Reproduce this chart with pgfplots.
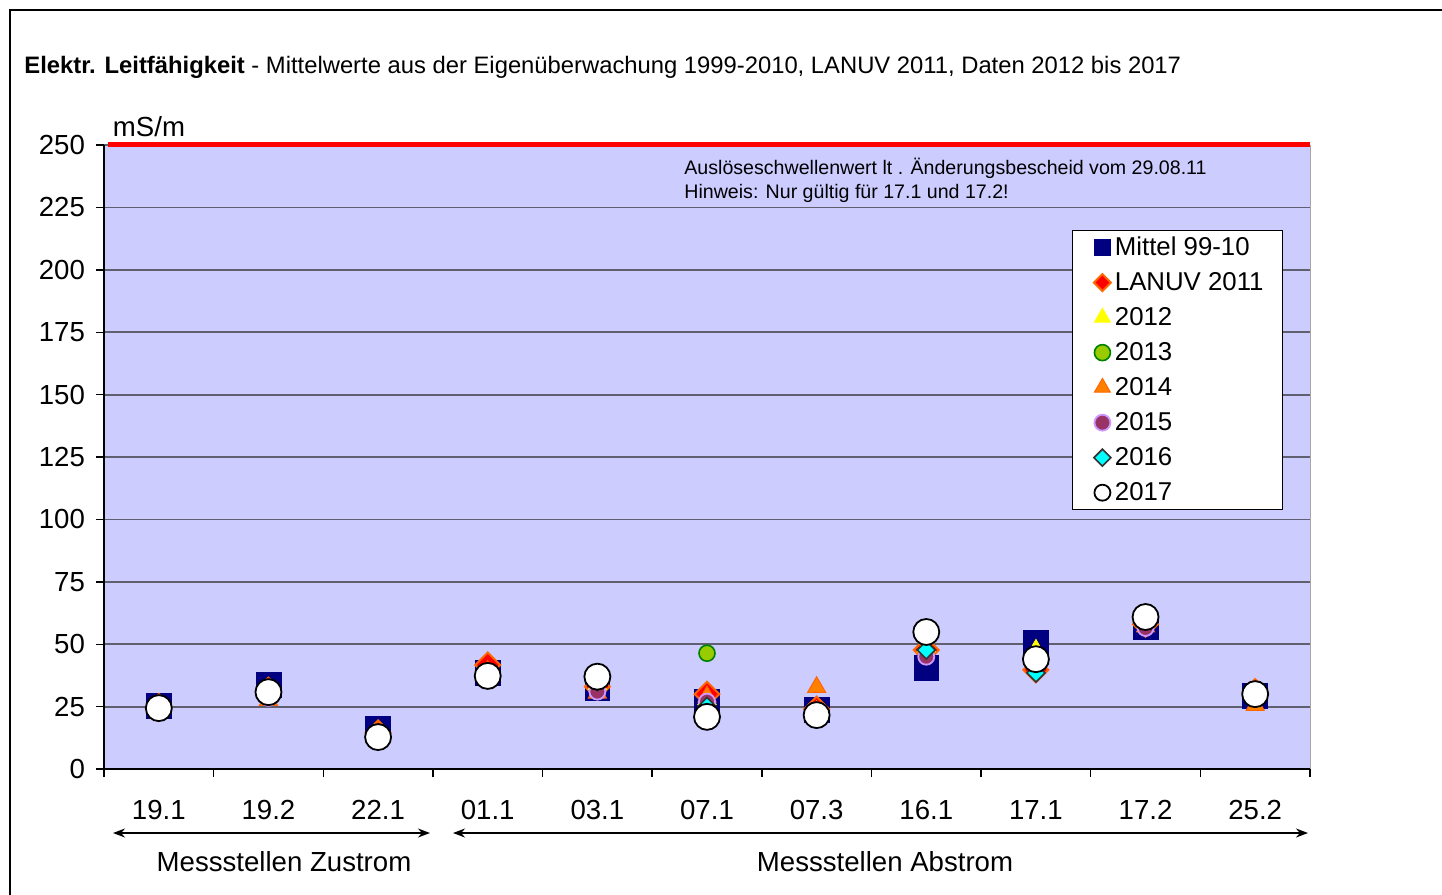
\documentclass[border=0pt]{standalone}
\usepackage{fontspec}
\setmainfont{Liberation Sans}
\usepackage{pgfplots}
\usepackage{pgfplotstable}
\pgfplotsset{compat=1.18}
\usetikzlibrary{arrows.meta}

\definecolor{bgblue}{HTML}{CCCCFF}
\definecolor{gridc}{HTML}{5F5F6F}
\definecolor{mnavy}{HTML}{000080}
\definecolor{lanred}{HTML}{FF0000}
\definecolor{lanorg}{HTML}{FF6600}
\definecolor{y12}{HTML}{FFFF00}
\definecolor{y13f}{HTML}{99CC00}
\definecolor{y13d}{HTML}{008000}
\definecolor{y14}{HTML}{FF8000}
\definecolor{y15f}{HTML}{993366}
\definecolor{y15d}{HTML}{CC99FF}
\definecolor{y16f}{HTML}{00FFFF}
\definecolor{y16d}{HTML}{333333}

% x: 1=19.1 2=19.2 3=22.1 4=01.1 5=03.1 6=07.1 7=07.3 8=16.1 9=17.1 10=17.2 11=25.2
\pgfplotstableread{
x  mittel lanuv y12  y13  y14  y15  y16  y17
1  25.2   25.0  25.0 24.5 24.0 24.5 24.5 24.4
2  33.6   31.6  31.0 31.0 27.6 28.5 30.0 30.8
3  16.0   14.5  14.0 13.0 15.0 14.0 13.0 12.8
4  38.5   41.7  39.0 38.0 39.0 38.0 38.0 37.3
5  32.5   33.0  34.0 36.0 30.5 31.0 35.0 37.0
6  26.8   30.0  28.0 46.4 29.0 27.0 25.0 20.9
7  23.6   24.0  23.0 22.0 32.8 23.0 22.0 21.6
8  40.5   47.7  49.0 53.0 48.0 45.0 47.7 54.9
9  50.5   39.7  47.7 44.0 45.0 44.0 38.5 44.0
10 57.0   58.0  59.0 60.0 57.0 56.5 60.0 60.9
11 29.2   31.0  30.0 30.0 25.6 29.0 30.0 30.0
}\lfdata

\begin{document}
\begin{tikzpicture}
\useasboundingbox (0,0) rectangle (721pt,-447.5pt);
\draw[line width=1pt] (5pt,-447.5pt) -- (5pt,-5pt) -- (721pt,-5pt);

\node[anchor=west, inner sep=0, font=\fontsize{11.9}{14}\selectfont] at (12pt,-33.5pt)
  {\textbf{Elektr. Leitfähigkeit} - Mittelwerte aus der Eigenüberwachung 1999-2010, LANUV 2011, Daten 2012 bis 2017};

\begin{axis}[
  at={(52pt,-384.5pt)}, anchor=south west,
  scale only axis, width=603pt, height=312pt,
  xmin=0.5, xmax=11.5, ymin=0, ymax=250,
  axis lines*=left,
  axis line style={black, line width=0.8pt},
  axis background/.style={fill=bgblue, draw=gray!70},
  clip=false,
  ytick={0,25,...,250},
  ymajorgrids, major grid style={gridc, line width=0.9pt},
  xtick={0.5,1.5,...,11.5},
  x tick label as interval,
  xticklabels={19.1,19.2,22.1,01.1,03.1,07.1,07.3,16.1,17.1,17.2,25.2},
  tick align=outside, major tick length=4pt,
  tick style={black, line width=0.7pt},
  ticklabel style={font=\fontsize{13.8}{16}\selectfont},
  /pgf/number format/assume math mode=true,
  xticklabel style={yshift=-8pt},
  yticklabel style={xshift=-2pt},
  legend style={at={(0.9776,0.8638)}, anchor=north east, draw=black, fill=white,
    font=\fontsize{12.9}{15}\selectfont, row sep=5pt,
    nodes={inner ysep=1pt}},
  legend cell align=left,
  legend image code/.code={\path[draw=none, fill=none] (-12pt,0pt) -- (3pt,0pt);
    \draw[#1] plot coordinates {(0pt,0pt)};},
]
\addplot[lanred, line width=2.5pt, forget plot] coordinates {(0.536,250.3) (11.5,250.3)};

\addplot[only marks, mark=square*, mark size=6.2pt, mark options={fill=mnavy, draw=mnavy, line width=0.3pt},
  legend image post style={mark size=4pt}] table[x=x, y=mittel] {\lfdata};
\addlegendentry{Mittel 99-10}
\addplot[only marks, mark=square*, mark size=4.4pt, mark options={rotate=45, fill=lanred, draw=lanorg, line width=1pt},
  legend image post style={mark size=3pt}] table[x=x, y=lanuv] {\lfdata};
\addlegendentry{LANUV 2011\rule{4.5pt}{0pt}}
\addplot[only marks, mark=triangle*, mark size=5.2pt, mark options={fill=y12, draw=y12, line width=0.5pt},
  legend image post style={mark size=4.6pt}] table[x=x, y=y12] {\lfdata};
\addlegendentry{2012}
\addplot[only marks, mark=*, mark size=4pt, mark options={fill=y13f, draw=y13d, line width=0.8pt},
  legend image post style={mark size=4pt}] table[x=x, y=y13] {\lfdata};
\addlegendentry{2013}
\addplot[only marks, mark=triangle*, mark size=5.2pt, mark options={fill=y14, draw=lanorg, line width=0.5pt},
  legend image post style={mark size=4.6pt}] table[x=x, y=y14] {\lfdata};
\addlegendentry{2014}
\addplot[only marks, mark=*, mark size=4pt, mark options={fill=y15f, draw=y15d, line width=0.9pt},
  legend image post style={mark size=4pt}] table[x=x, y=y15] {\lfdata};
\addlegendentry{2015}
\addplot[only marks, mark=square*, mark size=3.2pt, mark options={rotate=45, fill=y16f, draw=y16d, line width=0.8pt},
  legend image post style={mark size=3pt}] table[x=x, y=y16] {\lfdata};
\addlegendentry{2016}
\addplot[only marks, mark=*, mark size=6.5pt, mark options={fill=white, draw=black, line width=0.9pt},
  legend image post style={mark size=4pt}] table[x=x, y=y17] {\lfdata};
\addlegendentry{2017}
\end{axis}

\node[anchor=north west, align=left, inner sep=0, font=\fontsize{9.8}{12}\selectfont] at (342pt,-79pt)
  {Auslöseschwellenwert lt . Änderungsbescheid vom 29.08.11\\Hinweis: Nur gültig für 17.1 und 17.2!};
\node[font=\fontsize{13.8}{16}\selectfont] at (74.5pt,-63.5pt) {mS/m};

\draw[{Stealth[length=6pt]}-{Stealth[length=6pt]}, line width=0.8pt] (56.5pt,-416.5pt) -- (215pt,-416.5pt);
\draw[{Stealth[length=6pt]}-{Stealth[length=6pt]}, line width=0.8pt] (226.5pt,-416.5pt) -- (654pt,-416.5pt);
\node[font=\fontsize{13.8}{16}\selectfont] at (142pt,-431pt) {Messstellen Zustrom};
\node[font=\fontsize{13.8}{16}\selectfont] at (442.5pt,-431pt) {Messstellen Abstrom};
\end{tikzpicture}
\end{document}
